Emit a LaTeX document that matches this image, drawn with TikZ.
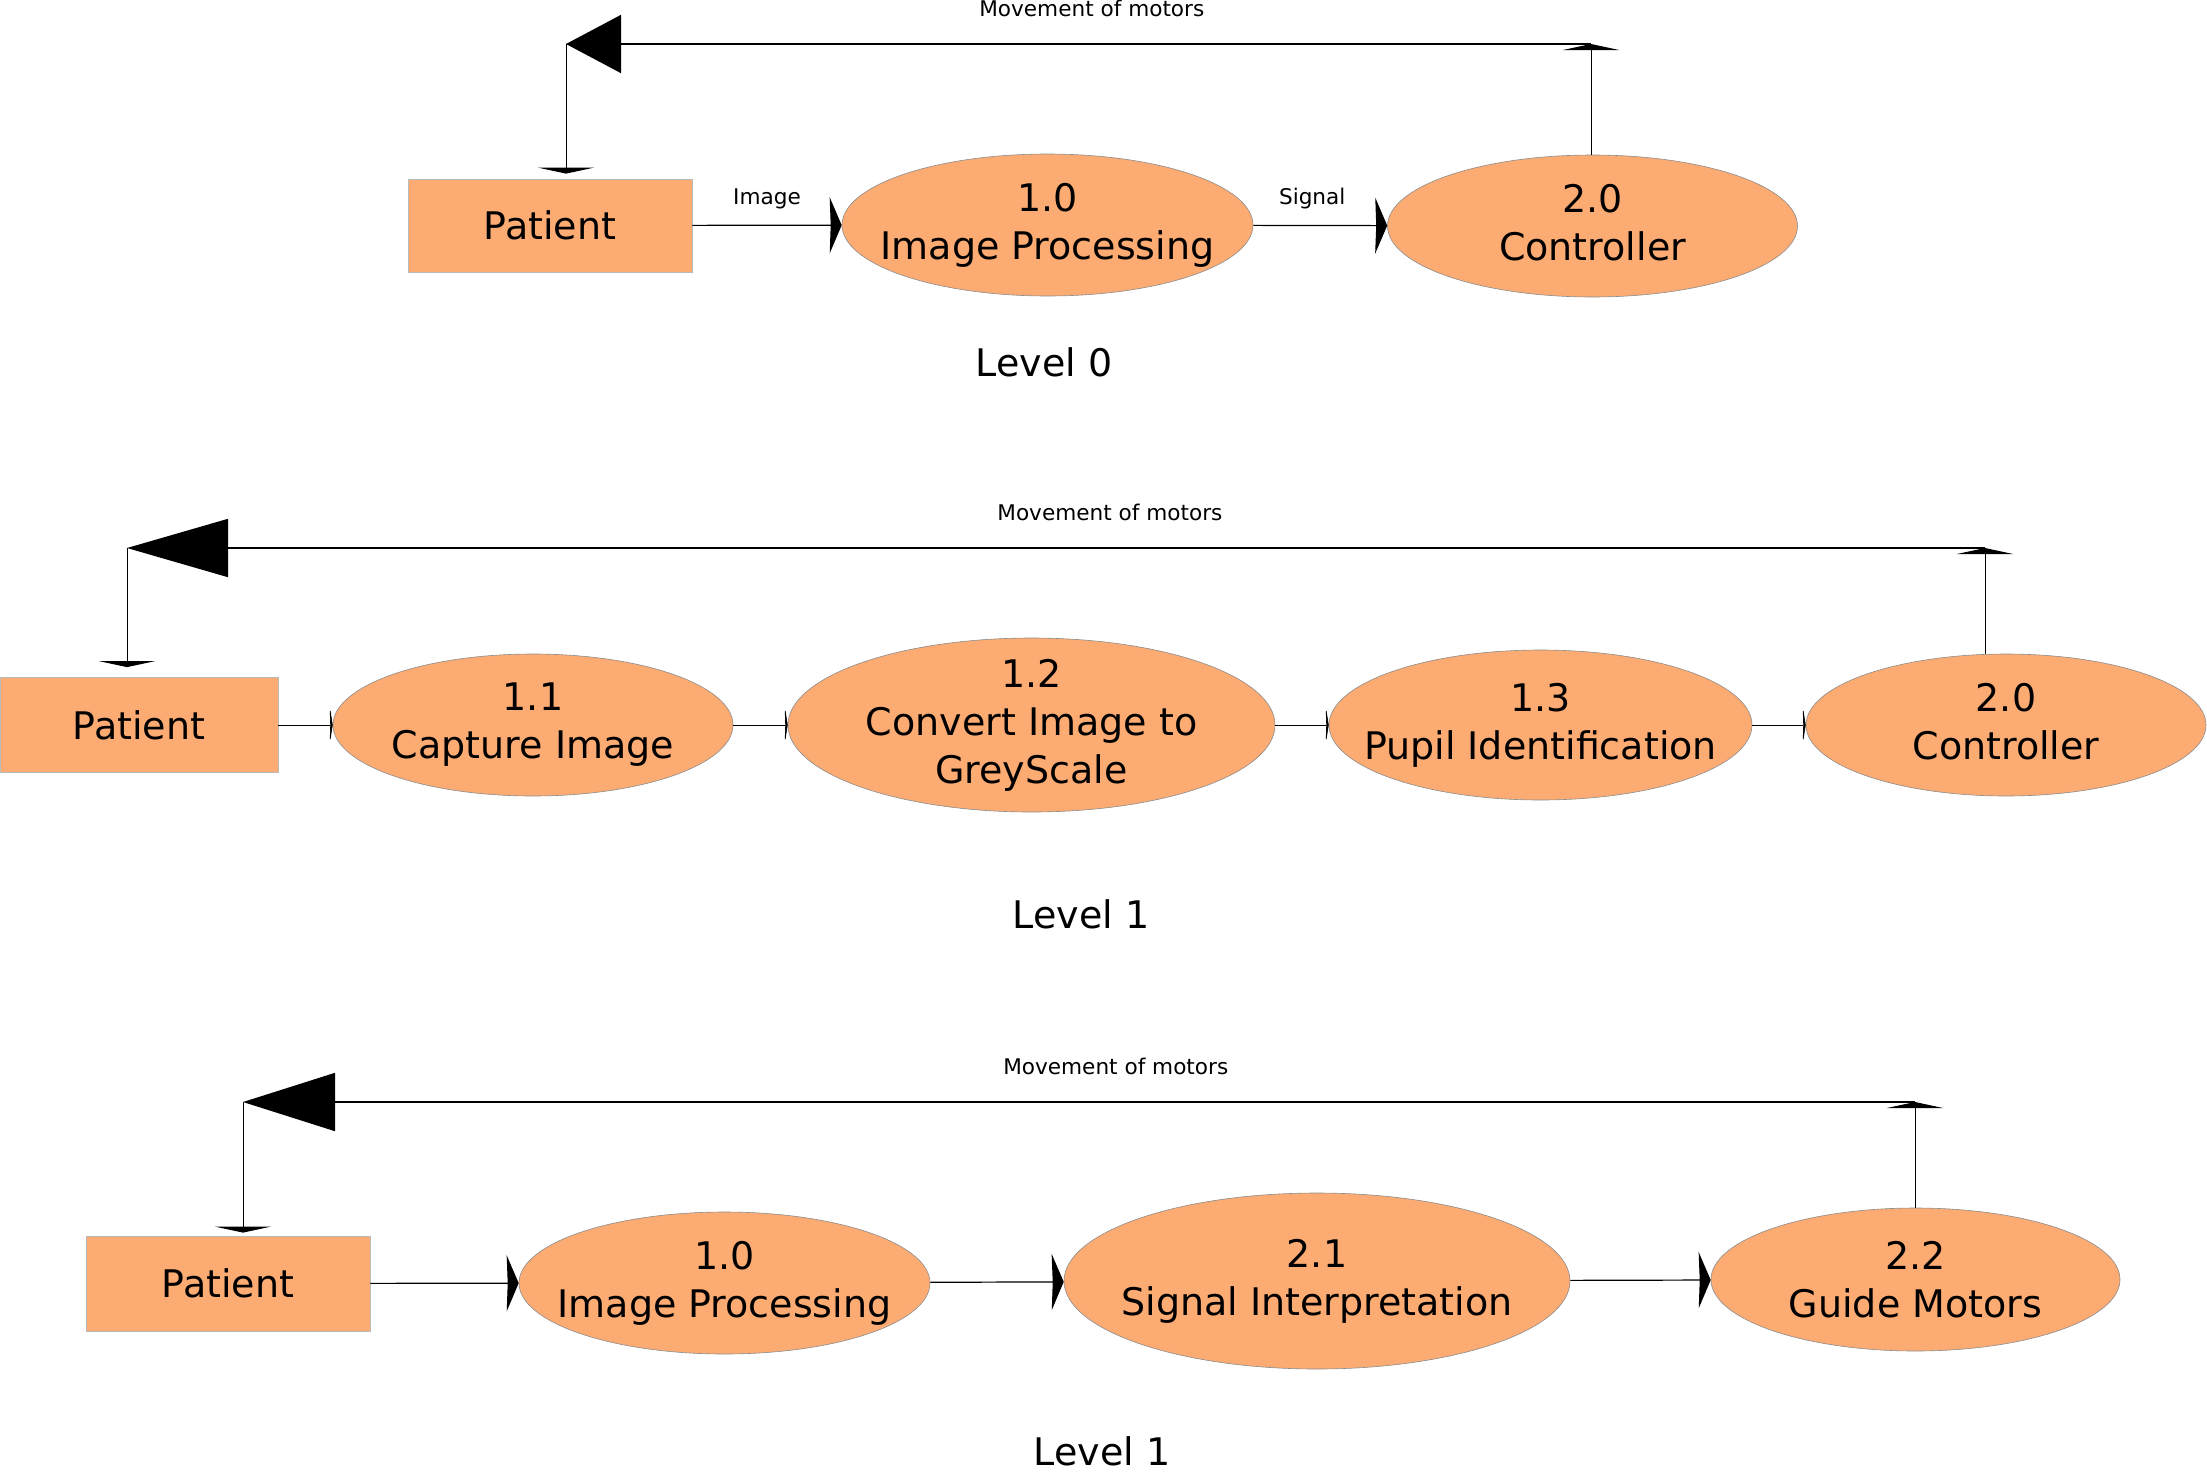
\documentclass[tikz,border=0pt]{standalone}
\usepackage{fontspec}
\setmainfont{DejaVu Sans}
\usetikzlibrary{shapes.geometric,arrows.meta}
\definecolor{procfill}{RGB}{252,171,115}
\tikzset{
  ent/.style={rectangle,draw=gray!55,line width=0.4pt,fill=procfill,inner sep=0pt,font=\fontsize{19}{24}\selectfont},
  proc/.style={ellipse,draw=gray!90,line width=0.3pt,fill=procfill,align=center,inner xsep=-80pt,inner ysep=-10pt,font=\fontsize{19}{24}\selectfont},
  lbl/.style={font=\fontsize{10.8}{13}\selectfont},
  lvl/.style={font=\fontsize{19}{24}\selectfont},
  big/.style={line width=0.8pt,-{Triangle[length=#1,width=29pt]}},
  flat/.style={line width=0.5pt,-{Triangle[length=3pt,width=28pt]}},
  flow/.style={line width=0.6pt,-{Stealth[length=#1,width=28pt,inset=0.5pt]}},
  flow/.default=6pt,
  tick/.style={line width=0.5pt,-{Stealth[length=1.5pt,width=19pt,inset=0.3pt]}}
}
\begin{document}
\begin{tikzpicture}[x=0.5pt,y=-0.5pt]
  \useasboundingbox (0,0) rectangle (2207,1473);
  % level 0
  \node[ent,minimum width=142pt,minimum height=46.5pt] (p0) at (550,225.5) {Patient};
  \node[proc,minimum width=205.5pt,minimum height=71pt] (a0) at (1047.5,225) {1.0\\Image Processing};
  \node[proc,minimum width=205pt,minimum height=71pt] (b0) at (1592.5,226) {2.0\\Controller\vphantom{g}};
  \coordinate (l0) at (566,44);
  \coordinate (r0) at (1591,44);
  \path[flow]
    (p0) edge node[lbl,above=4.5pt] {Image} (a0)
    (a0) edge node[lbl,pos=0.44,above=4.5pt] {Signal} (b0);
  \draw[flat] (b0.north -| r0) -- (r0);
  \draw[big=27.5pt] (r0) -- node[lbl,pos=0.487,above=10pt] {Movement of motors} (l0);
  \draw[flat,shorten >=2.5pt] (l0) -- (l0 |- p0.north);
  \node[lvl] (t0) at (1044,362) {Level 0};

  % level 1
  \node[ent,minimum width=139pt,minimum height=47.5pt] (p1) at (139,725) {Patient};
  \node[proc,minimum width=200pt,minimum height=71pt] (a1) at (533,725) {1.1\\Capture Image};
  \node[proc,minimum width=243.5pt,minimum height=87pt] (b1) at (1031.5,725) {1.2\\Convert Image to\\GreyScale};
  \node[proc,minimum width=211.5pt,minimum height=75pt] (c1) at (1540.5,725) {1.3\\Pupil Identification};
  \node[proc,minimum width=200pt,minimum height=71pt] (d1) at (2006,725) {2.0\\Controller\vphantom{g}};
  \coordinate (l1) at (127,548);
  \coordinate (r1) at (1985,548);
  \path[tick]
    (p1) edge (a1)
    (a1) edge (b1)
    (b1) edge (c1)
    (c1) edge (d1);
  \draw[flat] (d1.north -| r1) -- (r1);
  \draw[big=50.5pt] (r1) -- node[lbl,pos=0.471,above=10pt] {Movement of motors} (l1);
  \draw[flat,shorten >=5pt] (l1) -- (l1 |- p1.north);
  \node[lvl] (t1) at (1081,914) {Level 1};

  % level 1, second part
  \node[ent,minimum width=142pt,minimum height=47.5pt] (p2) at (228,1283.5) {Patient};
  \node[proc,minimum width=205.5pt,minimum height=71pt] (a2) at (724.5,1283) {1.0\\Image Processing};
  \node[proc,minimum width=253pt,minimum height=88pt] (b2) at (1317,1281) {2.1\\Signal Interpretation};
  \node[proc,minimum width=204.5pt,minimum height=71.5pt] (c2) at (1915.5,1279.5) {2.2\\Guide Motors};
  \coordinate (l2) at (243,1102);
  \coordinate (r2) at (1915,1102);
  \path[flow]
    (p2) edge (a2)
    (a2) edge (b2)
    (b2) edge (c2);
  \draw[flat] (c2.north -| r2) -- (r2);
  \draw[big=46pt] (r2) -- node[lbl,pos=0.478,above=10pt] {Movement of motors} (l2);
  \draw[flat,shorten >=1.5pt] (l2) -- (l2 |- p2.north);
  \node[lvl] (t2) at (1102,1451) {Level 1};
\end{tikzpicture}
\end{document}
